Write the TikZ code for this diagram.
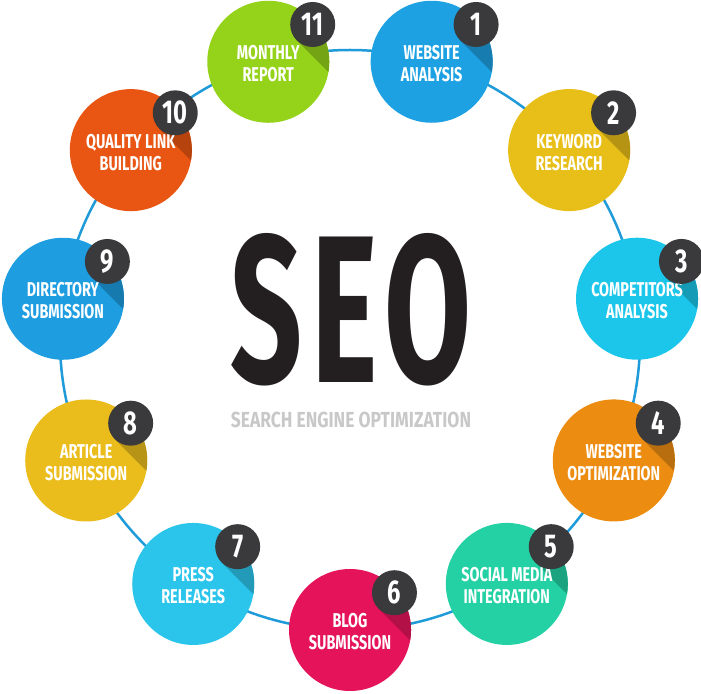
\documentclass[tikz,border=0pt]{standalone}
\usepackage{fontspec}
\setmainfont{Fira Sans}
\newfontfamily\labelfont[FakeStretch=0.72]{Fira Sans}
\newfontfamily\seofont[FakeStretch=0.6,LetterSpace=4]{Fira Sans}
\newfontfamily\subfont[FakeStretch=0.8]{Fira Sans}
\usetikzlibrary{calc}
\definecolor{ringblue}{HTML}{1E9BD8}
\definecolor{badgegray}{HTML}{3A3A3C}
\definecolor{seodark}{HTML}{231F20}
\definecolor{subgray}{HTML}{C8C8C8}
\definecolor{topicA}{HTML}{1DA1E2}
\definecolor{topicB}{HTML}{E8BE18}
\definecolor{topicC}{HTML}{1CC6EA}
\definecolor{topicD}{HTML}{EC8D12}
\definecolor{topicE}{HTML}{23D1A4}
\definecolor{topicF}{HTML}{E5145A}
\definecolor{topicG}{HTML}{2BC5EC}
\definecolor{topicH}{HTML}{EBBD1C}
\definecolor{topicI}{HTML}{1E9DE0}
\definecolor{topicJ}{HTML}{E95512}
\definecolor{topicK}{HTML}{95D21A}
\tikzstyle{topic} = [circle, minimum size=122pt, inner sep=0pt]
\tikzstyle{caption} = [text=white, align=center, inner sep=0pt,
    font=\labelfont\bfseries\fontsize{20}{22}\selectfont]
\tikzstyle{badge} = [circle, fill=badgegray, minimum size=45pt, inner sep=0pt,
    text=white, font=\labelfont\bfseries\fontsize{33}{33}\selectfont]

\begin{document}
\begin{tikzpicture}[x=1pt,y=1pt]
    \useasboundingbox (-350,-353) rectangle (351,340);
    % the ring behind the topics
    \coordinate (ring) at (0,0);
    \draw [ringblue, line width=2.5pt] (ring) circle [radius=290pt];
    % eleven topics, clockwise from the top
    \foreach \col/\txt [count=\n] in {topicA/{WEBSITE\\ANALYSIS},
        topicB/{KEYWORD\\RESEARCH}, topicC/{COMPETITORS\\ANALYSIS},
        topicD/{WEBSITE\\OPTIMIZATION}, topicE/{SOCIAL MEDIA\\INTEGRATION},
        topicF/{BLOG\\SUBMISSION}, topicG/{PRESS\\RELEASES},
        topicH/{ARTICLE\\SUBMISSION}, topicI/{DIRECTORY\\SUBMISSION},
        topicJ/{QUALITY LINK\\BUILDING}, topicK/{MONTHLY\\REPORT}} {
        \pgfmathsetmacro\ang{73.64-(\n-1)*32.727}
        \node [topic, fill=\col, path picture={
            \fill [\col!78!black] ($(path picture bounding box.center)+(40:58)+(45:22.5)$)
                -- ++(-45:110) -- ++(225:45) -- ++(135:110) -- cycle;}]
            (s\n) at (\ang:290) {};
        \node [caption] (t\n) at ($(s\n)+(0,-2)$) {\txt};
        \node [badge] (b\n) at ($(s\n)+(40:58)$) {\n};
    }
    % title in the middle
    \node [text=seodark, inner sep=0pt] (seo) at (1,30)
        {\seofont\bfseries\fontsize{210}{210}\selectfont SEO};
    \node [text=subgray, inner sep=0pt] (sub) at (1,-80)
        {\subfont\bfseries\fontsize{21.8}{22}\selectfont SEARCH ENGINE OPTIMIZATION};
\end{tikzpicture}
\end{document}
